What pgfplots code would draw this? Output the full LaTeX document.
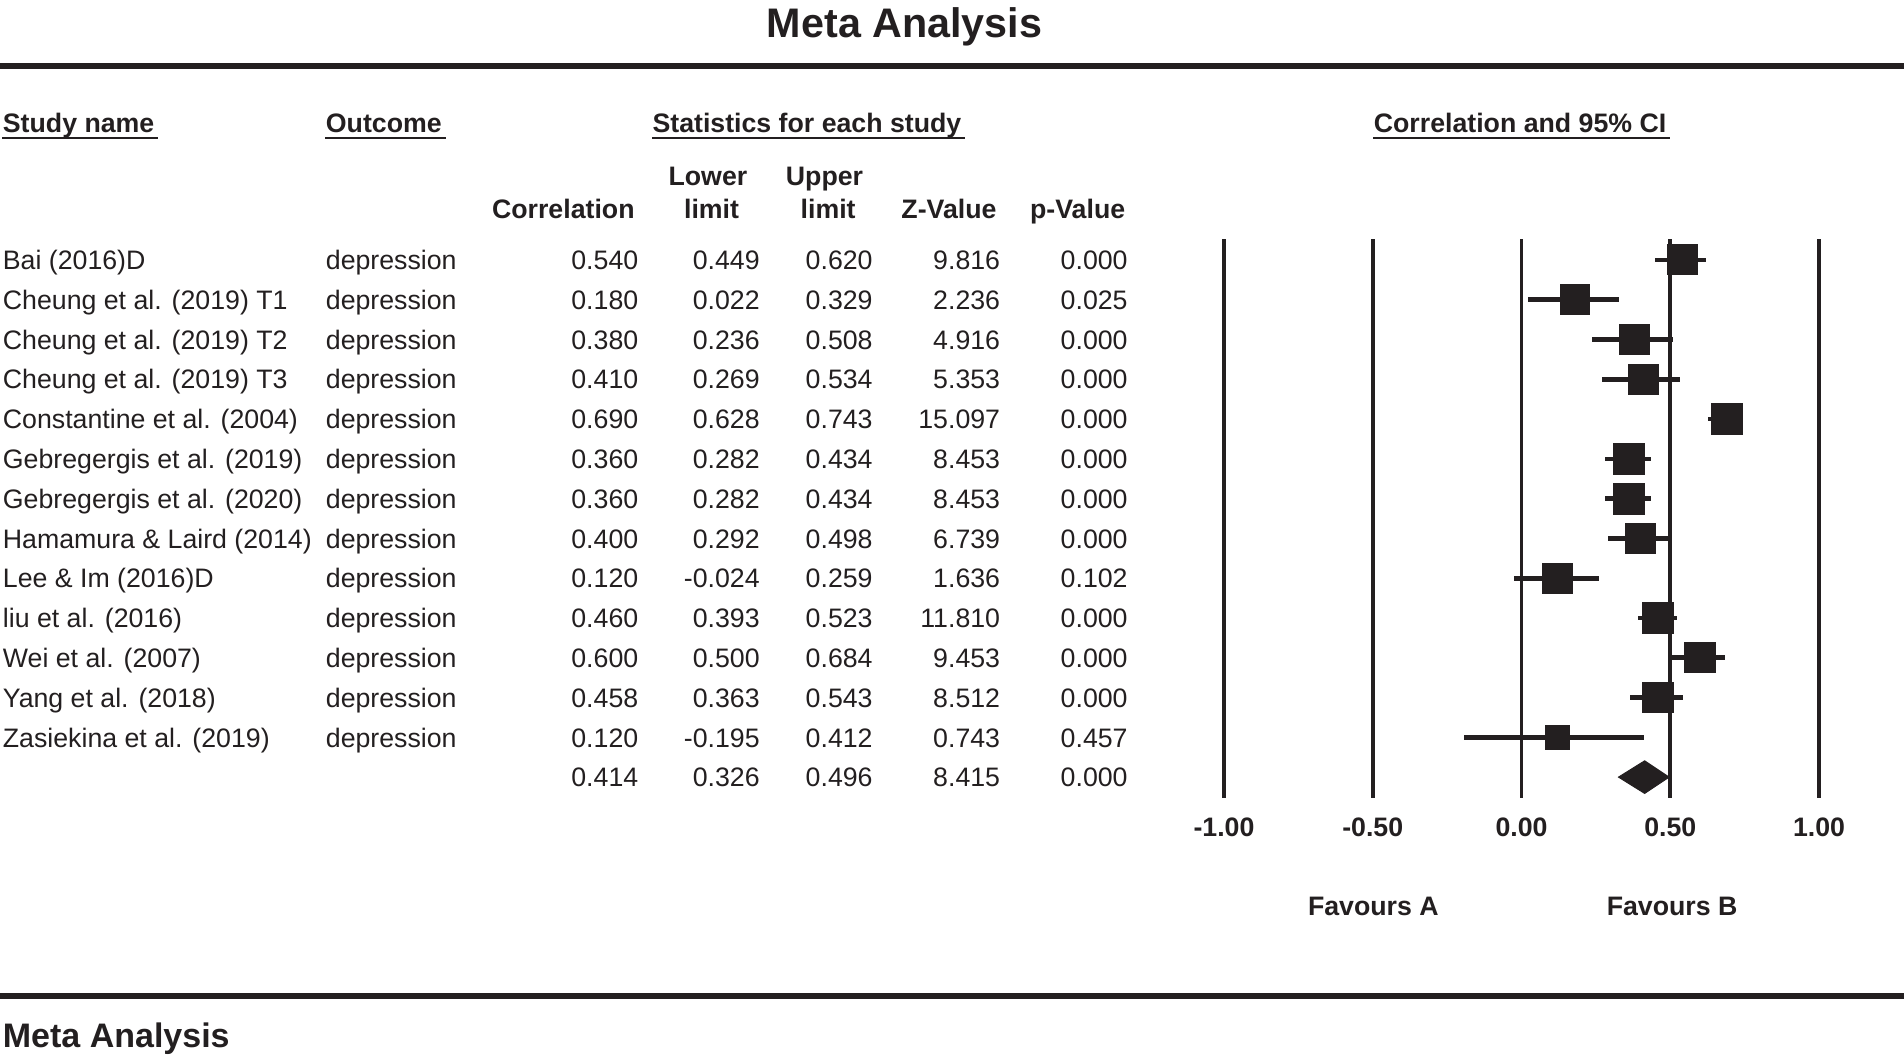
\documentclass[border=0pt]{standalone}
\usepackage{fontspec}
\setmainfont{Liberation Sans}
\usepackage{pgfplots}
\usepackage{pgfplotstable}
\pgfplotsset{compat=1.18}
\usetikzlibrary{calc}
\definecolor{ink}{RGB}{35,31,32}

% row position (y = -row), correlation, lower, upper, half side of the square (pt)
\pgfplotstableread{
y r lo hi s
-1 0.540 0.449 0.620 6.2
-2 0.180 0.022 0.329 6.1
-3 0.380 0.236 0.508 6.2
-4 0.410 0.269 0.534 6.2
-5 0.690 0.628 0.743 6.4
-6 0.360 0.282 0.434 6.4
-7 0.360 0.282 0.434 6.4
-8 0.400 0.292 0.498 6.3
-9 0.120 -0.024 0.259 6.2
-10 0.460 0.393 0.523 6.4
-11 0.600 0.500 0.684 6.2
-12 0.458 0.363 0.543 6.3
-13 0.120 -0.195 0.412 4.9
}\studies

\begin{document}
\begin{tikzpicture}[x=0.5pt,y=-0.5pt,font=\fontsize{11}{13}\selectfont,text=ink]
\useasboundingbox (0,0) rectangle (1568,874);

% title and rules
\node[anchor=base,inner sep=0,font=\fontsize{17}{20}\selectfont\bfseries] at (745,31) {Meta Analysis};
\fill[ink] (0,51.5) rectangle (1568,56.5);
\fill[ink] (0,818) rectangle (1568,823);
\node[anchor=base west,inner sep=0,font=\fontsize{14}{16}\selectfont\bfseries] at (2,863) {Meta Analysis};

% group headers
\begin{scope}[every node/.style={anchor=base west,inner sep=0,font=\fontsize{11}{13}\selectfont\bfseries}]
\node (h1) at (2,109) {Study name};
\node (h2) at (268,109) {Outcome};
\node (h3) at (537,109) {Statistics for each study};
\node (h4) at (1131,109) {Correlation and 95\% CI};
\end{scope}
\foreach \h in {h1,h2,h3,h4}
  \draw[ink,line width=1pt] ($(\h.base west)+(0,4.5)$) -- ($(\h.base east)+(3,4.5)$);

% column headers
\begin{scope}[every node/.style={inner sep=0,font=\fontsize{11}{13}\selectfont\bfseries}]
\node[anchor=base east] at (523,180) {Correlation};
\node[anchor=base] at (583,153) {Lower};
\node[anchor=base] at (586,180) {limit};
\node[anchor=base] at (679,153) {Upper};
\node[anchor=base] at (682,180) {limit};
\node[anchor=base east] at (821,180) {Z-Value};
\node[anchor=base east] at (927,180) {p-Value};
\end{scope}

% table rows
\foreach \i/\nm/\a/\b/\c/\d/\e in {
 1/Bai (2016)D/0.540/0.449/0.620/9.816/0.000,
 2/Cheung et al. (2019) T1/0.180/0.022/0.329/2.236/0.025,
 3/Cheung et al. (2019) T2/0.380/0.236/0.508/4.916/0.000,
 4/Cheung et al. (2019) T3/0.410/0.269/0.534/5.353/0.000,
 5/Constantine et al. (2004)/0.690/0.628/0.743/15.097/0.000,
 6/Gebregergis et al. (2019)/0.360/0.282/0.434/8.453/0.000,
 7/Gebregergis et al. (2020)/0.360/0.282/0.434/8.453/0.000,
 8/Hamamura \& Laird (2014)/0.400/0.292/0.498/6.739/0.000,
 9/Lee \& Im (2016)D/0.120/-0.024/0.259/1.636/0.102,
 10/liu et al. (2016)/0.460/0.393/0.523/11.810/0.000,
 11/Wei et al. (2007)/0.600/0.500/0.684/9.453/0.000,
 12/Yang et al. (2018)/0.458/0.363/0.543/8.512/0.000,
 13/Zasiekina et al. (2019)/0.120/-0.195/0.412/0.743/0.457}{
  \pgfmathsetmacro\yb{222+(\i-1)*32.77}
  \node[anchor=base west,inner sep=0] at (2,\yb) {\nm};
  \node[anchor=base west,inner sep=0] at (268,\yb) {depression};
  \node[anchor=base east,inner sep=0] at (526,\yb) {\a};
  \node[anchor=base east,inner sep=0] at (626,\yb) {\b};
  \node[anchor=base east,inner sep=0] at (719,\yb) {\c};
  \node[anchor=base east,inner sep=0] at (824,\yb) {\d};
  \node[anchor=base east,inner sep=0] at (929,\yb) {\e};
}
\begin{scope}[every node/.style={anchor=base east,inner sep=0}]
\node at (526,648) {0.414};
\node at (626,648) {0.326};
\node at (719,648) {0.496};
\node at (824,648) {8.415};
\node at (929,648) {0.000};
\end{scope}

% favours labels
\node[anchor=base,inner sep=0,font=\fontsize{11}{13}\selectfont\bfseries] at (1131,754) {Favours A};
\node[anchor=base,inner sep=0,font=\fontsize{11}{13}\selectfont\bfseries] at (1377,754) {Favours B};

\begin{axis}[
  at={(504pt,-328.5pt)}, anchor=south west,
  scale only axis, width=245pt, height=230pt,
  xmin=-1, xmax=1, ymin=-14.52, ymax=-0.48,
  axis x line*=bottom, hide y axis,
  x axis line style={draw=none},
  xtick={-1,-0.5,0,0.5,1},
  xticklabels={-1.00,-0.50,0.00,0.50,1.00},
  major tick length=0pt,
  xmajorgrids, grid style={ink,line width=1.6pt},
  xticklabel style={font=\fontsize{11}{13}\selectfont\bfseries,text=ink,yshift=-4.8pt},
  clip=false]
  \addplot[only marks, mark=none,
    error bars/.cd, x dir=both, x explicit, error mark=none,
    error bar style={draw=ink,line width=1.9pt}]
    table[x=r, y=y,
      x error plus expr=\thisrow{hi}-\thisrow{r},
      x error minus expr=\thisrow{r}-\thisrow{lo}] {\studies};
  \addplot[scatter, only marks, mark=square*, draw=ink, fill=ink,
    scatter/use mapped color={draw=ink,fill=ink},
    visualization depends on={\thisrow{s}\as\msize},
    scatter/@pre marker code/.append style={/tikz/mark size=\msize pt}]
    table[x=r, y=y] {\studies};
  \addplot[draw=ink, fill=ink] coordinates {
    (0.326,-14) (0.414,-13.59) (0.496,-14) (0.414,-14.41)} --cycle;
\end{axis}
\end{tikzpicture}
\end{document}
